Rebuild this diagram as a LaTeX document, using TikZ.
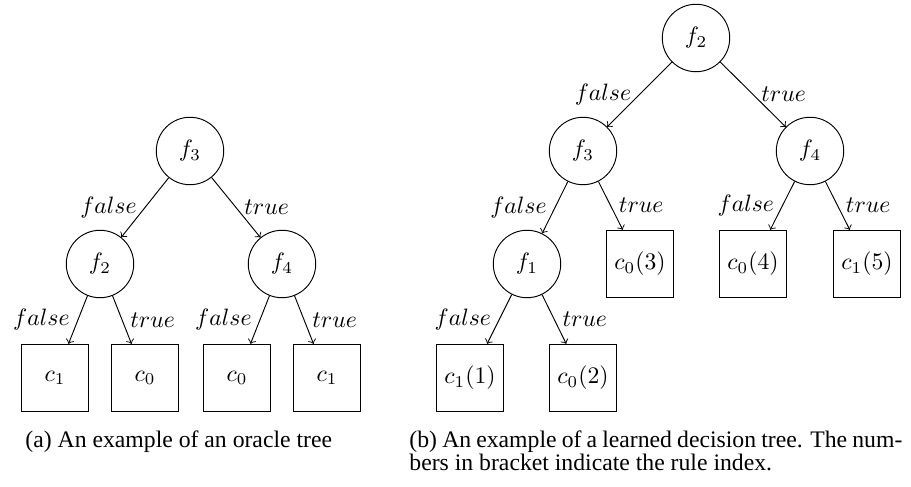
\documentclass[tikz,border=0pt]{standalone}
\usepackage[no-math]{fontspec}
\setmainfont{Liberation Serif}
\begin{document}
\begin{tikzpicture}[x=0.422pt,y=-0.422pt,
  feat/.style={draw,circle,minimum size=1cm,inner sep=0pt,line width=0.4pt},
  leaf/.style={draw,rectangle,minimum size=1cm,line width=0.4pt},
  br/.style={->,line width=0.4pt},
  lf/.style={midway,left},
  lt/.style={midway,right},
  captext/.style={anchor=base west,inner sep=0pt}]
\useasboundingbox (0,0) rectangle (911,487);
% left tree
\node[feat] (a3) at (190,151) {$f_3$};
\node[feat] (a2) at (100,264) {$f_2$};
\node[feat] (a4) at (282,264) {$f_4$};
\node[leaf] (al1) at (55,378) {$c_1$};
\node[leaf] (al2) at (145,378) {$c_0$};
\node[leaf] (al3) at (237,378) {$c_0$};
\node[leaf] (al4) at (327,378) {$c_1$};
\draw[br] (a3) -- node[lf]{$false$} (a2);
\draw[br] (a3) -- node[lt]{$true$} (a4);
\draw[br] (a2) -- node[lf]{$false$} (al1);
\draw[br] (a2) -- node[lt]{$true$} (al2);
\draw[br] (a4) -- node[lf]{$false$} (al3);
\draw[br] (a4) -- node[lt]{$true$} (al4);
% right tree
\node[feat] (b2) at (696,38) {$f_2$};
\node[feat] (b3) at (583,151) {$f_3$};
\node[feat] (b4) at (810,151) {$f_4$};
\node[feat] (b1) at (527,264) {$f_1$};
\node[leaf] (bl3) at (640,264) {$c_0(3)$};
\node[leaf] (bl4) at (753,264) {$c_0(4)$};
\node[leaf] (bl5) at (867,264) {$c_1(5)$};
\node[leaf] (bl1) at (470,378) {$c_1(1)$};
\node[leaf] (bl2) at (583,378) {$c_0(2)$};
\draw[br] (b2) -- node[lf]{$false$} (b3);
\draw[br] (b2) -- node[lt]{$true$} (b4);
\draw[br] (b3) -- node[lf]{$false$} (b1);
\draw[br] (b3) -- node[lt]{$true$} (bl3);
\draw[br] (b4) -- node[lf]{$false$} (bl4);
\draw[br] (b4) -- node[lt]{$true$} (bl5);
\draw[br] (b1) -- node[lf]{$false$} (bl1);
\draw[br] (b1) -- node[lt]{$true$} (bl2);
% captions
\node[captext] (capa) at (25,448) {(a) An example of an oracle tree};
\node[captext] (capb1) at (409,448) {\makebox[208pt][s]{(b) An example of a learned decision tree. The num-}};
\node[captext] (capb2) at (409,471) {bers in bracket indicate the rule index.};
\end{tikzpicture}
\end{document}
